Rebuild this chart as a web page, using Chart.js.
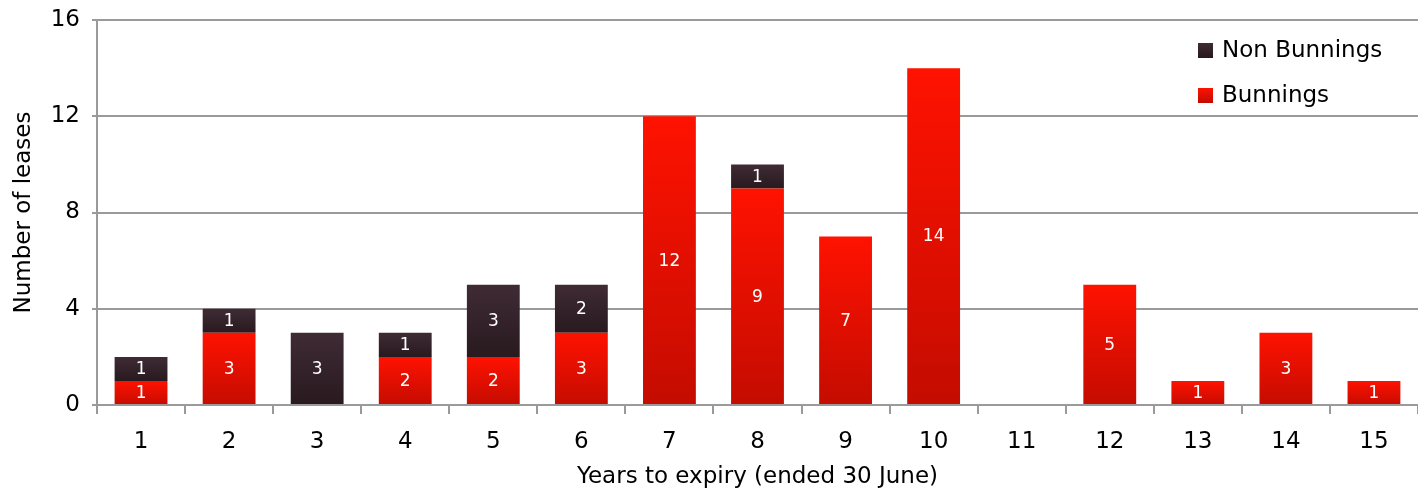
<!DOCTYPE html>
<html>
<head>
<meta charset="utf-8">
<script src="https://cdn.jsdelivr.net/npm/chart.js@4.4.1/dist/chart.umd.min.js"></script>
<style>
  html, body { margin: 0; padding: 0; background: #fff; }
  #wrap { width: 1418px; height: 492px; position: relative; }
</style>
</head>
<body>
<div id="wrap"><canvas id="chart"></canvas></div>
<script>
const years = ["1", "2", "3", "4", "5", "6", "7", "8", "9", "10", "11", "12", "13", "14", "15"];
const bunnings = [1, 3, 0, 2, 2, 3, 12, 9, 7, 14, 0, 5, 1, 3, 1];
const nonBunnings = [1, 1, 3, 1, 3, 2, 0, 1, 0, 0, 0, 0, 0, 0, 0];
const yTicks = [0, 4, 8, 12, 16];

const font = "'DejaVu Sans', Verdana, sans-serif";
const gridColor = "#9a9a9a";

const palette = {
  red: { top: "#ff1200", bottom: "#c40c00" },
  dark: { top: "#3f2b34", bottom: "#281a1f" },
};

// gradient per stacked segment, from its own top to its own bottom
const segmentGradient = (colors) => (ctx) => {
  const chart = ctx.chart;
  const { chartArea, scales } = chart;
  if (!chartArea || ctx.type !== "data") return colors.top;
  const i = ctx.dataIndex;
  let base = 0;
  for (let d = 0; d < ctx.datasetIndex; d++) base += chart.data.datasets[d].data[i];
  const value = chart.data.datasets[ctx.datasetIndex].data[i];
  const yTop = scales.y.getPixelForValue(base + value);
  const yBottom = scales.y.getPixelForValue(base);
  if (!isFinite(yTop) || !isFinite(yBottom) || yTop === yBottom) return colors.top;
  const g = chart.ctx.createLinearGradient(0, yTop, 0, yBottom);
  g.addColorStop(0, colors.top);
  g.addColorStop(1, colors.bottom);
  return g;
};

// white value labels in the middle of each segment
const valueLabels = {
  id: "valueLabels",
  afterDatasetsDraw(chart) {
    const { ctx } = chart;
    ctx.save();
    ctx.fillStyle = "#ffffff";
    ctx.font = `17px ${font}`;
    ctx.textAlign = "center";
    ctx.textBaseline = "middle";
    chart.data.datasets.forEach((ds, di) => {
      const meta = chart.getDatasetMeta(di);
      meta.data.forEach((bar, i) => {
        const v = ds.data[i];
        if (!v) return;
        const mid = (bar.y + bar.base) / 2;
        ctx.fillText(String(v), bar.x, mid + 1);
      });
    });
    ctx.restore();
  },
};

// legend in the top right corner, dark series listed first
const cornerLegend = {
  id: "cornerLegend",
  afterDraw(chart) {
    const { ctx } = chart;
    const items = [
      { label: "Non Bunnings", colors: palette.dark, y: 50 },
      { label: "Bunnings", colors: palette.red, y: 95 },
    ];
    ctx.save();
    ctx.font = `23px ${font}`;
    ctx.textBaseline = "middle";
    ctx.textAlign = "left";
    items.forEach((item) => {
      const g = ctx.createLinearGradient(0, item.y - 7, 0, item.y + 7);
      g.addColorStop(0, item.colors.top);
      g.addColorStop(1, item.colors.bottom);
      ctx.fillStyle = g;
      ctx.fillRect(1198, item.y - 7, 15, 15);
      ctx.fillStyle = "#000";
      ctx.fillText(item.label, 1222, item.y + 1);
    });
    ctx.restore();
  },
};

new Chart(document.getElementById("chart"), {
  type: "bar",
  data: {
    labels: years,
    datasets: [
      {
        label: "Bunnings",
        data: bunnings,
        backgroundColor: segmentGradient(palette.red),
        barPercentage: 0.6,
        categoryPercentage: 1,
      },
      {
        label: "Non Bunnings",
        data: nonBunnings,
        backgroundColor: segmentGradient(palette.dark),
        barPercentage: 0.6,
        categoryPercentage: 1,
      },
    ],
  },
  options: {
    responsive: true,
    maintainAspectRatio: false,
    animation: false,
    layout: { padding: { top: 20, right: 0, left: 0, bottom: 0 } },
    plugins: {
      legend: { display: false },
      tooltip: { enabled: false },
    },
    scales: {
      x: {
        stacked: true,
        afterFit: (axis) => { axis.height = 87; },
        grid: {
          offset: true,
          drawOnChartArea: false,
          drawTicks: true,
          tickLength: 9,
          color: gridColor,
          lineWidth: 2,
        },
        border: { display: true, color: gridColor, width: 2, z: 1 },
        ticks: {
          color: "#000",
          font: { family: font, size: 23 },
          padding: 14,
        },
        title: {
          display: true,
          text: "Years to expiry (ended 30 June)",
          color: "#000",
          font: { family: font, size: 23 },
          padding: { top: 2, bottom: 1 },
        },
      },
      y: {
        stacked: true,
        min: 0,
        max: 16,
        afterFit: (axis) => {
          axis.width = 97;
          axis.paddingTop = 0;
          axis.paddingBottom = 0;
        },
        afterBuildTicks: (axis) => { axis.ticks = yTicks.map((v) => ({ value: v })); },
        grid: {
          color: gridColor,
          lineWidth: 2,
          drawTicks: true,
          tickLength: 5,
        },
        border: { display: true, color: gridColor, width: 2 },
        ticks: {
          color: "#000",
          font: { family: font, size: 23 },
          padding: 12,
        },
        title: {
          display: true,
          text: "Number of leases",
          color: "#000",
          font: { family: font, size: 23 },
          padding: { top: 10, bottom: 0 },
        },
      },
    },
  },
  plugins: [valueLabels, cornerLegend],
});
</script>
</body>
</html>
